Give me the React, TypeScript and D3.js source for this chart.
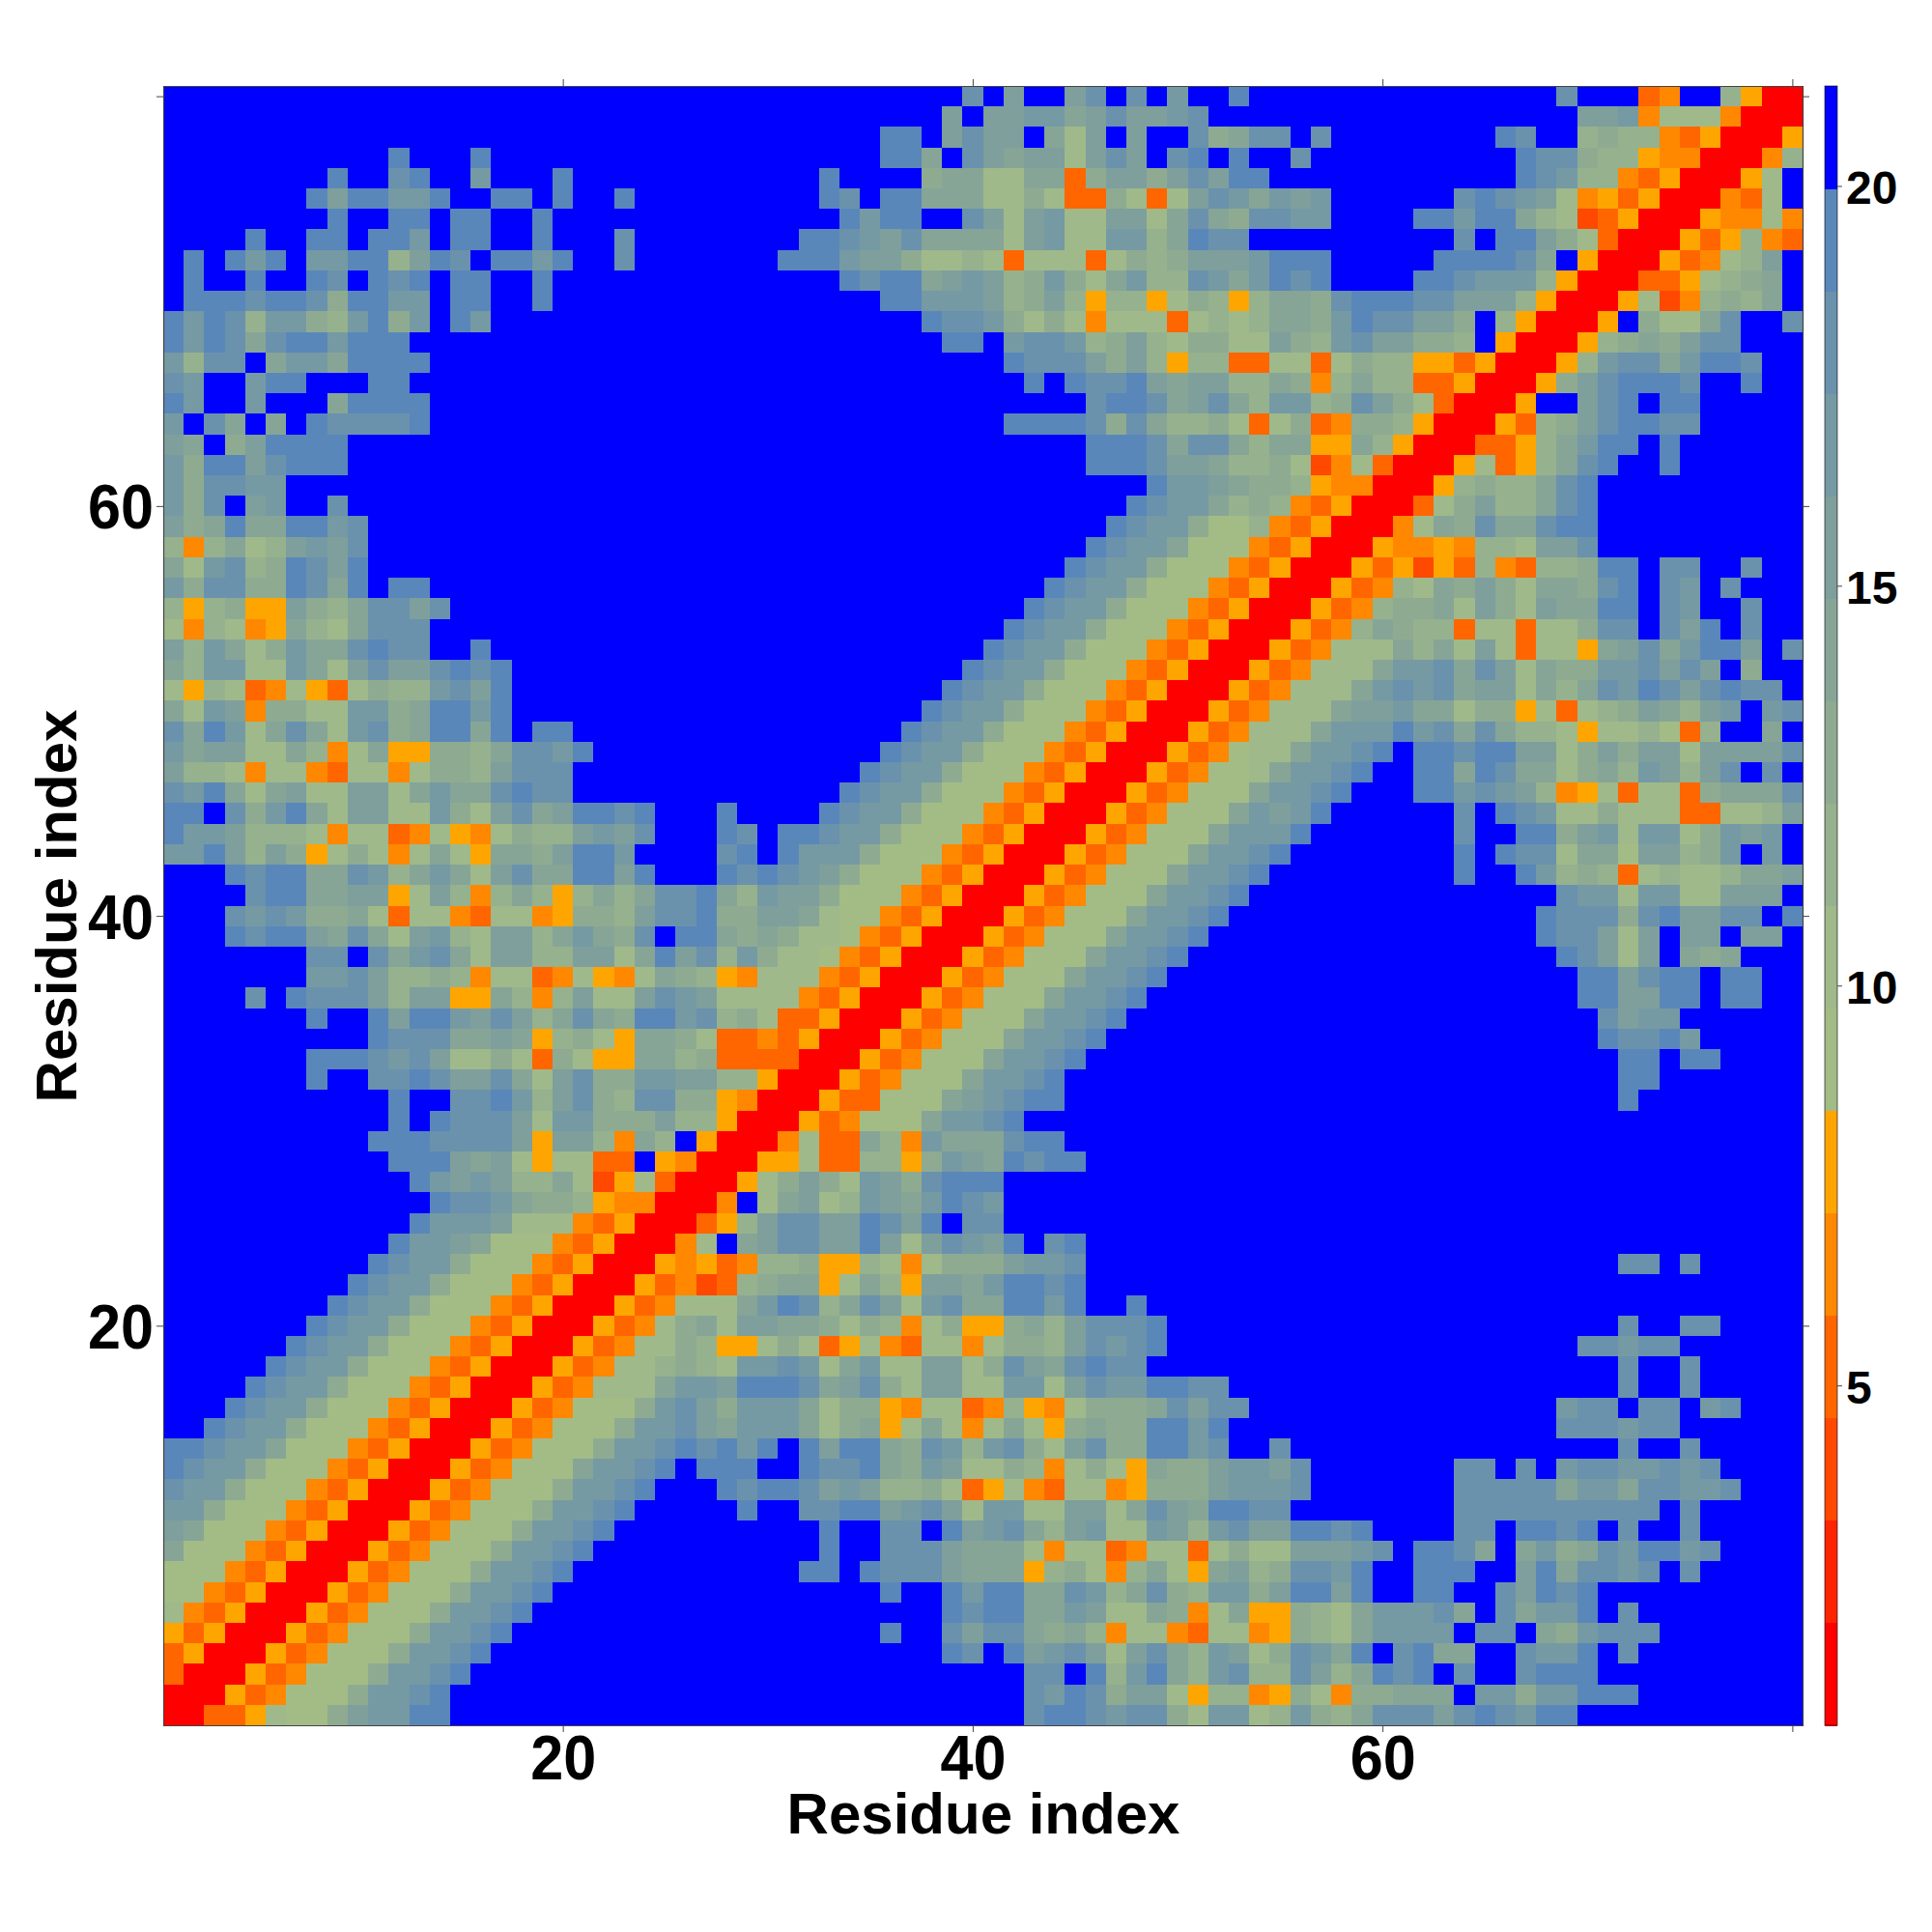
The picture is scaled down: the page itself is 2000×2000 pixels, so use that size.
import React, { useEffect, useRef } from "react";
import * as d3 from "d3";

// one row per residue, top row is residue 80. each char is a colour bin (hex), "." is the top bin
const binRows = [
  ".......... .......... .......... .........d .b..bd.d.c ..e....... ........d. ..34..8500",
  ".......... .......... .......... ........b. bbccabdbbc d......... .........b bc47774000",
  ".......... .......... .......... .....ee.bd bb.a7b.b.. d9add.d... .....ed..8 9884350005",
  ".......... .e...e.... .......... .....eea.d babb7bdb.d e.e..d.... ......edd9 8854400048",
  "........e. .de..c...e .......... ..e....9aa 77aa39bb9b dbee...... ......edc8 843500057.",
  ".......ebe ecce..ee.e ..e....... ..ed.eeaaa 7797339737 bdcacbc... ...dedcb74 535000437.",
  "........e. .ee.ee..e. .......... ...ecee..d b7bc77bb7a da9ddcc... .eeceea872 3500054474",
  "....e..ee. eec.ee..e. ..d....... .eedcbdaaa a7bc77cc8a edd....... ...d.eeb97 3000535843",
  ".e.ece.cce e8bed.eece ..d....... eeecbb9778 7377737989 bbbceee... ..eeeeda.5 00053478b.",
  ".e..e..ed. ede.ee..e. .......... ...edeeabc b89c97ac88 dcacede... .eedccc850 00335789a.",
  ".eeedeed9e ecc.ee..e. .......... .....eeccc b89b858857 9858aa9dee eddbbb8500 05724898a.",
  "eced8cc98c e9c.ec.... .......... .......edd c979747773 7878aa9ced dbb9.85000 5.977ad..d",
  "ecedadeece ee........ .......... ........ee .cddc89b87 9977b98cdb b998.50005 89a9bdd...",
  "c8dd.accae eee....... .......... .......... .edddb9b85 8833773798 8553500058 cddaceed..",
  "dc..cee... ee........ .......... .......... ..e.eddeba bb88a948a8 833500059b deeed..e..",
  "ec..c...ae eee....... .......... .......... .....deeda bda8cc89db 9730005..b de.ee.....",
  "c.da.a.edd dde....... .......... .......... .eeeed9da8 8973793499 850005389b deedd.....",
  "ba.9beeee. .......... .......... .......... .....eeeda dda8aa55a8 50003358ac ee.e......",
  "c9eebdeee. .......... .......... .......... .....eeedb ba88972473 00057358ad e..e......",
  "c9ddcc.... .......... .......... .......... ........ec cba9985440 0058988ade ..........",
  "c9d.bc..d. .......... .......... .......... .......edc ca89843500 0379b88ade ..........",
  "b9aeaaeecd .......... .......... .......... ......edcc 9668435000 47a9daadee ..........",
  "848a78bcbd .......... .......... .......... .....edcca 6664350005 4454887bbd ..........",
  "a7cd89edbe .......... .......... .......... ....edcc96 6643500053 5253843889 ee.dd..d..",
  "c9dd99edae .ee....... .......... .......... ...edcc966 6435000534 87a9b97aa9 de.dc.d...",
  "858955b98a ddbd...... .......... .......... ..edcc9666 4350005348 99a7b97baa ee.dc..d..",
  "748745a87a ddd....... .......... .......... .edcc96664 350005348a 9883773779 dd.dbe.d..",
  "b8ca79caad edd..e.... .......... .......... edcc966643 5000534777 a8a7b73775 abdaceeb.d",
  "a8cc77ca7b dbbdede... .......... .........e dcc9666435 000534777a ccdadb7a99 ccdbdb.9..",
  "7587347537 988cdbe... .......... ........ed cc96664350 00534777ac dcdabb7a8a dcedbdedd.",
  "a7cb49977c c9aeece... .......... .......edc c966643500 0534777abb caa7995737 89ba8bc.cd",
  "daec7ada7c d9aeeae.ee .......... ......edcc 9666435000 534777accc ecdada8875 778638..a.",
  "cabb77a847 a55998addc e......... .....edcc9 6664350005 34677accde .eedeebb79 b9bb7bbbbd",
  "b887477437 747998bddd .......... ....edcc96 6643500053 4667accde. .eeaedaa79 a8cb8bd.d.",
  "dcea7ab77b b7acaadedd .......... ...edcc966 6435000534 666accde.. .eecdcb845 737739aaad",
  "ee.d9cea7b b77c97bdab eede...e.. ..edcc9666 4350005346 66acbce... ...d.edc77 977733778b",
  "eccb888747 7347547988 bcbd...ed. eedcc96664 3500053466 6accce.... ...d..ee9b c7cc79cbc.",
  "cceb8b9579 747a75aa9b eec....de. eccc966643 5000534666 accde..... ...e.edd7a a6bb89c.c.",
  "...edeeaad c8aca7bdaa eebe...ede dcb9666435 000534666a ccde...... ...e..ec89 8378778aab",
  "....deeaab b57b848a85 8a8addea8c bb96664350 00534666ac cde....... ........dc c7cc77bbb.",
  "...dcdc99a 7377437745 998bdde99b ba76643500 0534666acc de........ .......edd d9debbdd.e",
  "...edeebad a7bc87bb8a ca9d.eea9a 9776435000 534666accd e......... .......edd b7b.bb.bb.",
  ".......dd. dacda7bb88 bb7aebd8c9 7764350005 34666accde .......... ........ed b7b.a9a...",
  ".......ccd b889847734 7547a98547 7743500053 4666accde. .......... .........e ebdee.ee..",
  "....d.eddd b8bb55a848 b77bdcb777 7435000534 666accde.. .......... .........e ebbee.ee..",
  ".......e.. ebeecbdb8a da9eecd897 3350005346 66accde... .......... .......... dbcc......",
  ".......... edddaaba58 975aa97334 3500053466 6accde.... .......... .......... eddec.....",
  ".......eee dcdb779739 755aa89333 3000534666 accde..... .......... .......... .ee.ee....",
  ".......e.. ddedbbda7b d99ccbb885 000534666a ccde...... .......... .......... .ee.......",
  ".......... .e..ddec8b d98dd99540 00533666ab cdee...... .......... .......... .e........",
  ".......... .e.edddb7c c999b88500 0534666acc de........ .......... .......... ..........",
  ".......... eeeddddb5b b84a8.5000 4733a84caa adee...... .......... .......... ..........",
  ".......... .eeebab757 733.540005 57338859cb aedee..... .......... .......... ..........",
  ".......... ..ecbcb88a 7257300057 9b97cb9dee e......... .......... .......... ..........",
  ".......... ...eddca99 85440004.7 ab78cbaced c......... .......... .......... ..........",
  ".......... ..ecccb777 435000358b ddbbedbe.d d......... .......... .......... ..........",
  ".......... .eccba6664 3500047.ab ddbbeb7bdc be.de..... .......... .......... ..........",
  ".......... edcc966643 5000545348 8955874799 9bccd..... .......... .......... .dd.d.....",
  ".........e dcc9666435 0005342389 aa57a85bba ceede..... .......... .......... ..........",
  "........ed cc96664350 00534777ac ed8adb7cda aeece..e.. .......... .......... ..........",
  ".......edc c966643500 053479a7bb aa97984795 59a8bddde. .......... .......... .d..dd....",
  "......edcc 9666435000 5347798557 9735743774 7998bdcde. .......... .........d dcdd......",
  ".....edcc9 6664350005 34778987cc dc7ac77bb7 9dbadedd.. .......... .......... .d..d.....",
  "....edcc96 6643500053 4777accbee edabd97bb7 7cc7bdccee dd........ .......... .d..d.....",
  "...edcc966 6435000534 6669cdb9cc ca79954773 48547999ad bdd....... ........cd d.dd.cd...",
  "..edcc9666 4350005346 669ccdbacc ca79a57a74 7a759a99ee ce........ ........dd dcdd......",
  "eedcca6664 3500053466 69ccdedece .ebeea9dc8 cd97bd99ee cd..d..... .......... .d..d.....",
  "edcc966643 5000534666 accde.eee. .eddea9cb7 79847975a9 9bccbd.... ...dd.d.cd dccdcd....",
  "dcc9666435 0005346669 ccde...ede edbcb88973 5743774599 9bcccd.... ...dddddac caddccd...",
  "cc96664350 005346669c cde.....e. .ddeebcdb7 cc77bb7adb aeedd..... ...ddddddd ddd.d.....",
  "ba66643500 05346669cc de........ ..e..dd.eb cda8bc77cb 8cdbbeede. ...dd.eede .d..d.....",
  "a666435000 5346669ccd e......... ..e..dddba aa74773477 37977bbbcd .eeda.ac9a dceecd....",
  "6664350005 346669ccde .......... .ee.edddba aa589748a7 5ab89ddce. .eee..bead dcd.d.....",
  "6643500053 46669ccde. .......... .....e..ec eeaadc8ad9 8cc9beebe. .ee..dbede ..........",
  "7435000534 6669ccde.. .......... ........ed eeaacb77a9 47a55987ac ccda.dacce .d........",
  "5350005346 669ccde... .......... .....e..db dda9a84774 37745987ac ccc.dd.a9c ddd.......",
  "3500053466 69ccde.... .......... ........ed .ebcdb7bda 8cb79dcae. deaa..dcce .d........",
  "3000534666 9ccde..... .......... .......... ..dd.e8cea 8cd88db8ae de.d..deee ..........",
  "0005346669 ccde...... .......... .......... ..dced9bb7 5884597499 aaa.cc9cce ee........",
  "003357669b ccee...... .......... .......... ..deedcdd9 7cc78c98ad ddbdedcee. ..........",
];

const binColors = [
  "#ff0000", "#ff2400", "#ff4800", "#ff6600", "#ff8800", "#ffa500",
  "#a3bc86", "#9fb98a", "#96b18e", "#8eab92", "#86a597", "#7e9f9c",
  "#759aa3", "#6a92ac", "#5a87b9", "#0000ff",
];

const residueTicks = [20, 40, 60, 80];
const colorbarTicks = [5, 10, 15, 20];
const colorbarDomain: [number, number] = [0.75, 21.25];
const axisTitle = "Residue index";

const plot = { left: 169, right: 1866, top: 89, bottom: 1786 };
const bar = { left: 1889, right: 1902 };
const labelFont = '"Liberation Sans", Arial, sans-serif';

const App: React.FC = () => {
  const ref = useRef<SVGSVGElement | null>(null);

  useEffect(() => {
    const svg = d3.select(ref.current);
    svg.selectAll("*").remove();

    const x = d3.scaleLinear().domain([0.5, 80.5]).range([plot.left, plot.right]);
    const y = d3.scaleLinear().domain([0.5, 80.5]).range([plot.bottom, plot.top]);
    const colorY = d3.scaleLinear().domain(colorbarDomain).range([plot.bottom, plot.top]);
    const color = d3.scaleQuantize<string>().domain(colorbarDomain).range(binColors);
    const binWidth = (colorbarDomain[1] - colorbarDomain[0]) / binColors.length;

    // expand rows into cells
    const cells = binRows.flatMap((row, r) =>
      row
        .replace(/ /g, "")
        .split("")
        .map((ch, c) => ({
          residueX: c + 1,
          residueY: 80 - r,
          value: colorbarDomain[0] + ((ch === "." ? 15 : parseInt(ch, 16)) + 0.5) * binWidth,
        }))
    );

    svg
      .append("g")
      .attr("shape-rendering", "crispEdges")
      .selectAll("rect")
      .data(cells)
      .enter()
      .append("rect")
      .attr("x", (d) => x(d.residueX - 0.5))
      .attr("y", (d) => y(d.residueY + 0.5))
      .attr("width", x(2) - x(1) + 0.5)
      .attr("height", x(2) - x(1) + 0.5)
      .attr("fill", (d) => color(d.value));

    // colour bar
    svg
      .append("g")
      .attr("shape-rendering", "crispEdges")
      .selectAll("rect")
      .data(binColors)
      .enter()
      .append("rect")
      .attr("x", bar.left)
      .attr("y", (_, i) => colorY(colorbarDomain[0] + (i + 1) * binWidth))
      .attr("width", bar.right - bar.left)
      .attr("height", (_, i) => colorY(colorbarDomain[0] + i * binWidth) - colorY(colorbarDomain[0] + (i + 1) * binWidth) + 0.5)
      .attr("fill", (d) => d);

    svg
      .append("rect")
      .attr("x", bar.left)
      .attr("y", plot.top)
      .attr("width", bar.right - bar.left)
      .attr("height", plot.bottom - plot.top)
      .attr("fill", "none")
      .attr("stroke", "#000")
      .attr("stroke-opacity", 0.6)
      .attr("stroke-width", 1);

    // axes
    const label = (v: d3.NumberValue) => (Number(v) === 80 ? "" : String(v));
    const styleAxis = (g: d3.Selection<SVGGElement, unknown, null, undefined>, size: number) => {
      g.selectAll("path").attr("stroke", "#444").attr("stroke-width", 1.2);
      g.selectAll("line").attr("stroke", "#444").attr("stroke-width", 1);
      g.selectAll("text")
        .attr("fill", "#000")
        .attr("font-family", labelFont)
        .attr("font-weight", "bold")
        .attr("font-size", size);
    };
    // the reference digits are a little narrower than Liberation's
    const narrowDigits = (g: d3.Selection<SVGGElement, unknown, null, undefined>) => {
      g.selectAll("text")
        .filter(function () {
          return (this as SVGTextElement).textContent !== "";
        })
        .attr("textLength", 68)
        .attr("lengthAdjust", "spacingAndGlyphs");
    };

    svg
      .append("g")
      .attr("transform", `translate(0,${plot.bottom})`)
      .call(d3.axisBottom(x).tickValues(residueTicks).tickSize(7).tickPadding(4).tickSizeOuter(0).tickFormat(label))
      .call(styleAxis, 64)
      .call(narrowDigits);
    svg
      .append("g")
      .attr("transform", `translate(0,${plot.top})`)
      .call(d3.axisTop(x).tickValues(residueTicks).tickSize(7).tickSizeOuter(0).tickFormat(() => ""))
      .call(styleAxis, 64);
    svg
      .append("g")
      .attr("transform", `translate(${plot.left},0)`)
      .call(d3.axisLeft(y).tickValues(residueTicks).tickSize(7).tickPadding(3).tickSizeOuter(0).tickFormat(label))
      .call(styleAxis, 64)
      .call(narrowDigits)
      .call((g) => g.selectAll("text").attr("dy", "0.36em"));
    svg
      .append("g")
      .attr("transform", `translate(${plot.right},0)`)
      .call(d3.axisRight(y).tickValues(residueTicks).tickSize(7).tickSizeOuter(0).tickFormat(() => ""))
      .call(styleAxis, 64);
    svg
      .append("g")
      .attr("transform", `translate(${bar.right},0)`)
      .call(d3.axisRight(colorY).tickValues(colorbarTicks).tickSize(5).tickPadding(4).tickSizeOuter(0))
      .call(styleAxis, 48)
      .call((g) => g.selectAll("text").attr("dy", "0.38em"))
      .call((g) => g.select("path").remove());

    // titles
    svg
      .append("text")
      .attr("x", 1023 - 5)
      .attr("y", 1906 - 8)
      .attr("text-anchor", "middle")
      .attr("font-family", labelFont)
      .attr("font-weight", "bold")
      .attr("font-size", 60)
      .text(axisTitle);
    svg
      .append("text")
      .attr("transform", "translate(79,938) rotate(-90)")
      .attr("text-anchor", "middle")
      .attr("font-family", labelFont)
      .attr("font-weight", "bold")
      .attr("font-size", 60)
      .text(axisTitle);
  }, []);

  return (
    <svg
      ref={ref}
      width={2000}
      height={2000}
      viewBox="0 0 2000 2000"
      style={{ position: "absolute", left: 0, top: 0, background: "#fff" }}
    />
  );
};

export default App;
